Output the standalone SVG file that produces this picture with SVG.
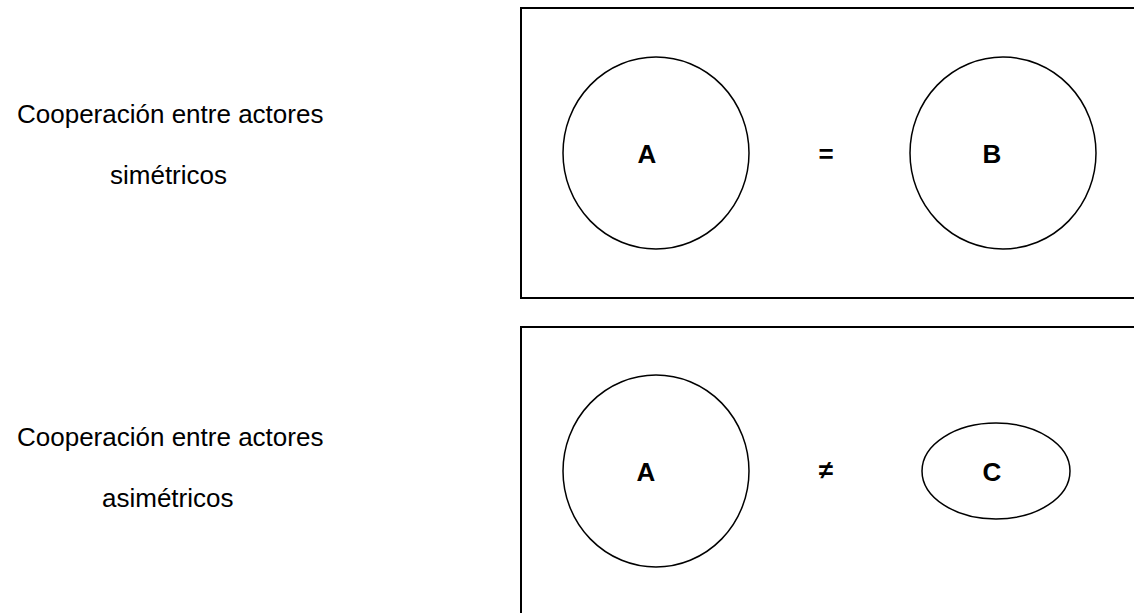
<svg xmlns="http://www.w3.org/2000/svg" width="1134" height="613" viewBox="0 0 1134 613">
<style>
.box{fill:none;stroke:#000;stroke-width:2}
.ell{fill:none;stroke:#000;stroke-width:1.5}
.lbl{font-family:"Liberation Sans",Arial,sans-serif;font-size:26px;fill:#000}
.nl{font-family:"Liberation Sans",Arial,sans-serif;font-size:26px;font-weight:bold;fill:#000;text-anchor:middle}
</style>
<rect width="1134" height="613" fill="#fff"/>
<g id="label-top">
<text class="lbl" x="17" y="123">Cooperación entre actores</text>
<text class="lbl" x="110" y="184">simétricos</text>
</g>
<g id="label-bottom">
<text class="lbl" x="17" y="446">Cooperación entre actores</text>
<text class="lbl" x="102" y="507">asimétricos</text>
</g>
<g id="box-top">
<rect class="box" x="521" y="8" width="640" height="290"/>
</g>
<g id="box-bottom">
<rect class="box" x="521" y="327" width="640" height="320"/>
</g>
<g id="node-A1">
<ellipse class="ell" cx="656" cy="153" rx="93" ry="96"/>
<text class="nl" x="647" y="163">A</text>
</g>
<g id="rel-eq">
<text class="nl" x="826" y="163">=</text>
</g>
<g id="node-B">
<ellipse class="ell" cx="1003" cy="153" rx="93" ry="96"/>
<text class="nl" x="992" y="163">B</text>
</g>
<g id="node-A2">
<ellipse class="ell" cx="656" cy="471" rx="93" ry="96"/>
<text class="nl" x="646" y="481">A</text>
</g>
<g id="rel-neq">
<text class="nl" x="826" y="479">≠</text>
</g>
<g id="node-C">
<ellipse class="ell" cx="996" cy="471" rx="74" ry="48"/>
<text class="nl" x="992" y="481">C</text>
</g>
<g id="connectors"></g>
</svg>
